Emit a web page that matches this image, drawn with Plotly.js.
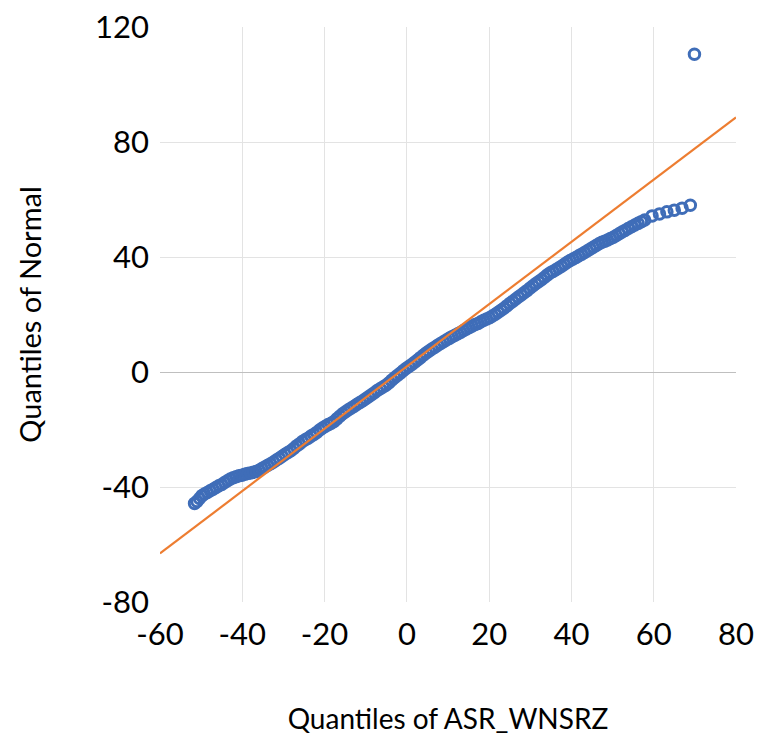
<!DOCTYPE html>
<html>
<head>
<meta charset="utf-8">
<script src="https://cdn.plot.ly/plotly-3.0.1.min.js"></script>
<style>
  html, body { margin: 0; padding: 0; background: #ffffff; }
  #chart { width: 764px; height: 738px; }
</style>
</head>
<body>
<div id="chart"></div>
<script>
// Sample quantiles of ASR_WNSRZ (x) against matching normal quantiles (y)
var sampleQuantiles = [
  -51.6, -51.0, -50.4, -49.8, -49.2, -48.5, -47.8, -47.1, -46.4, -45.7,
  -45.0, -44.3, -43.6, -42.9, -42.2, -41.5, -40.8, -40.1, -39.4, -38.7,
  -38.0, -37.3, -36.6, -35.9, -35.2, -34.5, -33.8, -33.1, -32.4, -31.7,
  -31.0, -30.3, -29.6, -28.9, -28.2, -27.5, -26.8, -26.1, -25.4, -24.7,
  -24.0, -23.3, -22.6, -21.9, -21.2, -20.5, -19.8, -19.1, -18.4, -17.7,
  -17.0, -16.3, -15.6, -14.9, -14.2, -13.5, -12.8, -12.1, -11.4, -10.7,
  -10.0, -9.3, -8.6, -7.9, -7.2, -6.5, -5.8, -5.1, -4.4, -3.7,
  -3.0, -2.3, -1.6, -0.9, -0.2, 0.5, 1.2, 1.9, 2.6, 3.3,
  4.0, 4.7, 5.4, 6.1, 6.8, 7.5, 8.2, 8.9, 9.6, 10.3,
  11.0, 11.7, 12.4, 13.1, 13.8, 14.5, 15.2, 15.9, 16.6, 17.3,
  18.0, 18.7, 19.4, 20.1, 20.8, 21.5, 22.2, 22.9, 23.6, 24.3,
  25.0, 25.7, 26.4, 27.1, 27.8, 28.5, 29.2, 29.9, 30.6, 31.3,
  32.0, 32.7, 33.4, 34.1, 34.8, 35.5, 36.2, 36.9, 37.6, 38.3,
  39.0, 39.7, 40.4, 41.1, 41.8, 42.5, 43.2, 43.9, 44.6, 45.3,
  46.0, 46.7, 47.4, 48.1, 48.8, 49.5, 50.2, 50.9, 51.6, 52.3,
  53.0, 53.8, 54.6, 55.4, 56.2, 57.0, 57.8, 59.6, 61.4, 63.2,
  65.0, 66.9, 68.9, 69.9
];
var normalQuantiles = [
  -45.7, -45.0, -44.0, -43.0, -42.4, -41.9, -41.3, -40.8, -40.2, -39.6,
  -39.1, -38.4, -37.8, -37.2, -36.8, -36.4, -36.1, -35.9, -35.6, -35.3,
  -35.1, -34.9, -34.6, -34.2, -33.6, -33.0, -32.4, -31.9, -31.3, -30.6,
  -30.0, -29.3, -28.6, -28.0, -27.4, -26.6, -25.7, -25.0, -24.2, -23.6,
  -23.0, -22.3, -21.7, -21.0, -20.2, -19.5, -18.9, -18.3, -17.8, -17.2,
  -16.3, -15.4, -14.5, -13.8, -13.1, -12.5, -11.9, -11.2, -10.6, -10.0,
  -9.3, -8.6, -7.9, -7.2, -6.4, -5.8, -5.2, -4.6, -3.8, -2.9,
  -2.0, -1.2, -0.4, 0.4, 1.2, 1.9, 2.6, 3.4, 4.2, 5.0,
  5.8, 6.6, 7.3, 8.0, 8.6, 9.3, 9.9, 10.5, 11.1, 11.7,
  12.3, 12.8, 13.3, 13.8, 14.4, 15.0, 15.5, 16.0, 16.5, 16.9,
  17.5, 18.0, 18.4, 18.9, 19.5, 20.1, 20.8, 21.5, 22.2, 23.0,
  23.8, 24.5, 25.3, 26.1, 26.8, 27.6, 28.3, 29.1, 29.9, 30.7,
  31.4, 32.1, 32.9, 33.7, 34.4, 35.0, 35.6, 36.2, 36.8, 37.5,
  38.2, 38.8, 39.3, 39.8, 40.4, 41.0, 41.6, 42.2, 42.8, 43.4,
  44.0, 44.6, 45.1, 45.5, 45.9, 46.4, 46.9, 47.5, 48.1, 48.7,
  49.2, 49.9, 50.5, 51.1, 51.7, 52.3, 52.9, 54.3, 55.0, 55.7,
  56.3, 57.0, 58.0, 110.5
];

// Reference line (end points across the x range)
var refLineX = [-60, 80];
var refLineY = [-63.1, 88.6];

// Axis ticks
var xTicks = [-60, -40, -20, 0, 20, 40, 60, 80];
var yTicks = [-80, -40, 0, 40, 80, 120];

var fontFamily = 'Lato, "Open Sans", sans-serif';

var traces = [
  {
    type: 'scatter',
    mode: 'markers',
    x: sampleQuantiles,
    y: normalQuantiles,
    marker: {
      symbol: 'circle-open',
      size: 10.5,
      color: '#3F6DB8',
      line: { width: 3, color: '#3F6DB8' }
    },
    hoverinfo: 'x+y'
  },
  {
    type: 'scatter',
    mode: 'lines',
    x: refLineX,
    y: refLineY,
    line: { color: '#ED7D31', width: 2.2 },
    hoverinfo: 'skip'
  }
];

var layout = {
  width: 764,
  height: 738,
  margin: { l: 160, r: 28, t: 27, b: 136 },
  paper_bgcolor: '#ffffff',
  plot_bgcolor: '#ffffff',
  showlegend: false,
  font: { family: fontFamily, color: '#000000' },
  xaxis: {
    range: [-60, 80],
    tickvals: xTicks,
    ticktext: xTicks.map(String),
    showgrid: true,
    gridcolor: '#E3E3E3',
    gridwidth: 1,
    zeroline: false,
    showline: false,
    ticks: '',
    tickfont: { size: 31, family: fontFamily, color: '#000000' },
    ticklabelstandoff: 11,
    title: {
      text: 'Quantiles of ASR_WNSRZ',
      font: { size: 28, family: fontFamily, color: '#000000' },
      standoff: 58
    }
  },
  yaxis: {
    range: [-80, 120],
    tickvals: yTicks,
    ticktext: yTicks.map(String),
    showgrid: true,
    gridcolor: '#E3E3E3',
    gridwidth: 1,
    zeroline: true,
    zerolinecolor: '#BFBFBF',
    zerolinewidth: 1,
    showline: false,
    ticks: '',
    tickfont: { size: 31, family: fontFamily, color: '#000000' },
    ticklabelstandoff: 10,
    title: {
      text: 'Quantiles of Normal',
      font: { size: 29, family: fontFamily, color: '#000000' },
      standoff: 44
    }
  }
};

Plotly.newPlot('chart', traces, layout, { displayModeBar: false, staticPlot: true });
</script>
</body>
</html>
